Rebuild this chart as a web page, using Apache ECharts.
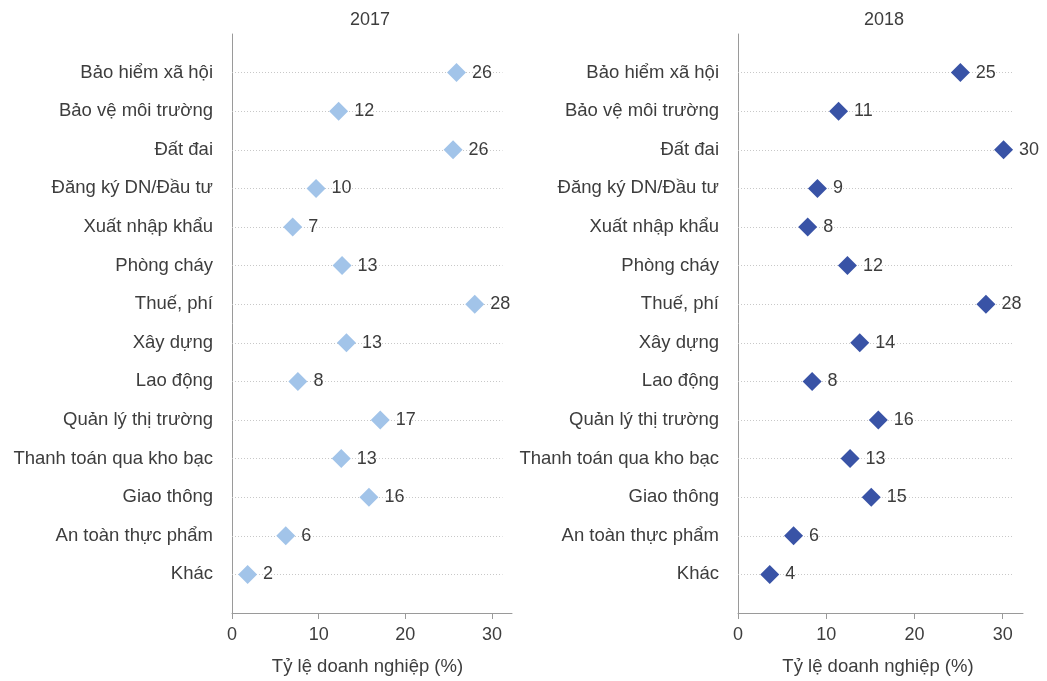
<!DOCTYPE html>
<html>
<head>
<meta charset="utf-8">
<script src="https://cdn.jsdelivr.net/npm/echarts@6/dist/echarts.min.js"></script>
<style>
html,body{margin:0;padding:0;background:#fff;}
#chart{width:1047px;height:681px;}
</style>
</head>
<body>
<div id="chart"></div>
<script>
var categories = ['Bảo hiểm xã hội','Bảo vệ môi trường','Đất đai','Đăng ký DN/Đầu tư','Xuất nhập khẩu','Phòng cháy','Thuế, phí','Xây dựng','Lao động','Quản lý thị trường','Thanh toán qua kho bạc','Giao thông','An toàn thực phẩm','Khác'];
var values2017 = [25.9, 12.3, 25.5, 9.7, 7.0, 12.7, 28.0, 13.2, 7.6, 17.1, 12.6, 15.8, 6.2, 1.8];
var labels2017 = [26, 12, 26, 10, 7, 13, 28, 13, 8, 17, 13, 16, 6, 2];
var values2018 = [25.2, 11.4, 30.1, 9.0, 7.9, 12.4, 28.1, 13.8, 8.4, 15.9, 12.7, 15.1, 6.3, 3.6];
var labels2018 = [25, 11, 30, 9, 8, 12, 28, 14, 8, 16, 13, 15, 6, 4];
var panelTitles = ['2017', '2018'];
var xTicks = [0, 10, 20, 30];
var xName = 'Tỷ lệ doanh nghiệp (%)';

var FONT = '"Liberation Sans", Arial, Helvetica, sans-serif';
var TXT = '#3d3d3d';
var AXIS = '#9a9a9a';
var colors = ['#a2c4e9', '#3953a6'];
var yData = [''].concat(categories).concat(['']);
var GRID_END = 31.2;

function makeX(idx, pad) {
  return {
    type: 'value', gridIndex: idx, min: 0, max: 32.3, interval: 10,
    name: xName, nameLocation: 'middle', nameGap: 44,
    nameTextStyle: {fontFamily: FONT, fontSize: 18.5, color: TXT, padding: pad},
    axisLine: {show: true, lineStyle: {color: AXIS, width: 1}},
    axisTick: {show: true, length: 6, lineStyle: {color: AXIS}, customValues: xTicks},
    axisLabel: {fontFamily: FONT, fontSize: 18, color: TXT, margin: 13, customValues: xTicks},
    splitLine: {show: false}
  };
}
function makeY(idx) {
  return {
    type: 'category', gridIndex: idx, data: yData, inverse: true, boundaryGap: false,
    axisLine: {show: true, lineStyle: {color: AXIS, width: 1}},
    axisTick: {show: false},
    axisLabel: {fontFamily: FONT, fontSize: 18.5, color: TXT, margin: 19, interval: 0},
    splitLine: {show: false}
  };
}
function gridSeries(idx) {
  return {
    type: 'scatter', xAxisIndex: idx, yAxisIndex: idx, data: [], z: 1, silent: true,
    markLine: {
      silent: true, z: 1, symbol: ['none', 'none'], label: {show: false},
      lineStyle: {type: [1, 2], color: '#c8c8c8', width: 1},
      emphasis: {disabled: true},
      data: categories.map(function (c) { return [{coord: [0, c]}, {coord: [GRID_END, c]}]; })
    }
  };
}
function pointSeries(idx, vals, labs) {
  return {
    type: 'scatter', xAxisIndex: idx, yAxisIndex: idx, z: 3,
    symbol: 'diamond', symbolSize: 19,
    itemStyle: {color: colors[idx], opacity: 1},
    data: categories.map(function (c, i) { return [vals[i], c]; }),
    label: {
      show: true, position: 'right', distance: 6,
      fontFamily: FONT, fontSize: 18, color: TXT,
      formatter: function (p) { return String(labs[p.dataIndex]); }
    }
  };
}

var chart = echarts.init(document.getElementById('chart'), null, {renderer: 'canvas'});
chart.setOption({
  backgroundColor: '#fff',
  animation: false,
  title: [
    {text: panelTitles[0], left: 365, top: 6, textAlign: 'center', textStyle: {fontFamily: FONT, fontSize: 18, fontWeight: 'normal', color: TXT}},
    {text: panelTitles[1], left: 879, top: 6, textAlign: 'center', textStyle: {fontFamily: FONT, fontSize: 18, fontWeight: 'normal', color: TXT}}
  ],
  grid: [
    {left: 232, right: 535, top: 34, bottom: 66, containLabel: false},
    {left: 738, right: 24, top: 34, bottom: 66, containLabel: false}
  ],
  xAxis: [makeX(0, [0, 9, 0, 0]), makeX(1, [0, 5, 0, 0])],
  yAxis: [makeY(0), makeY(1)],
  series: [
    gridSeries(0), gridSeries(1),
    pointSeries(0, values2017, labels2017),
    pointSeries(1, values2018, labels2018)
  ]
});
</script>
</body>
</html>
